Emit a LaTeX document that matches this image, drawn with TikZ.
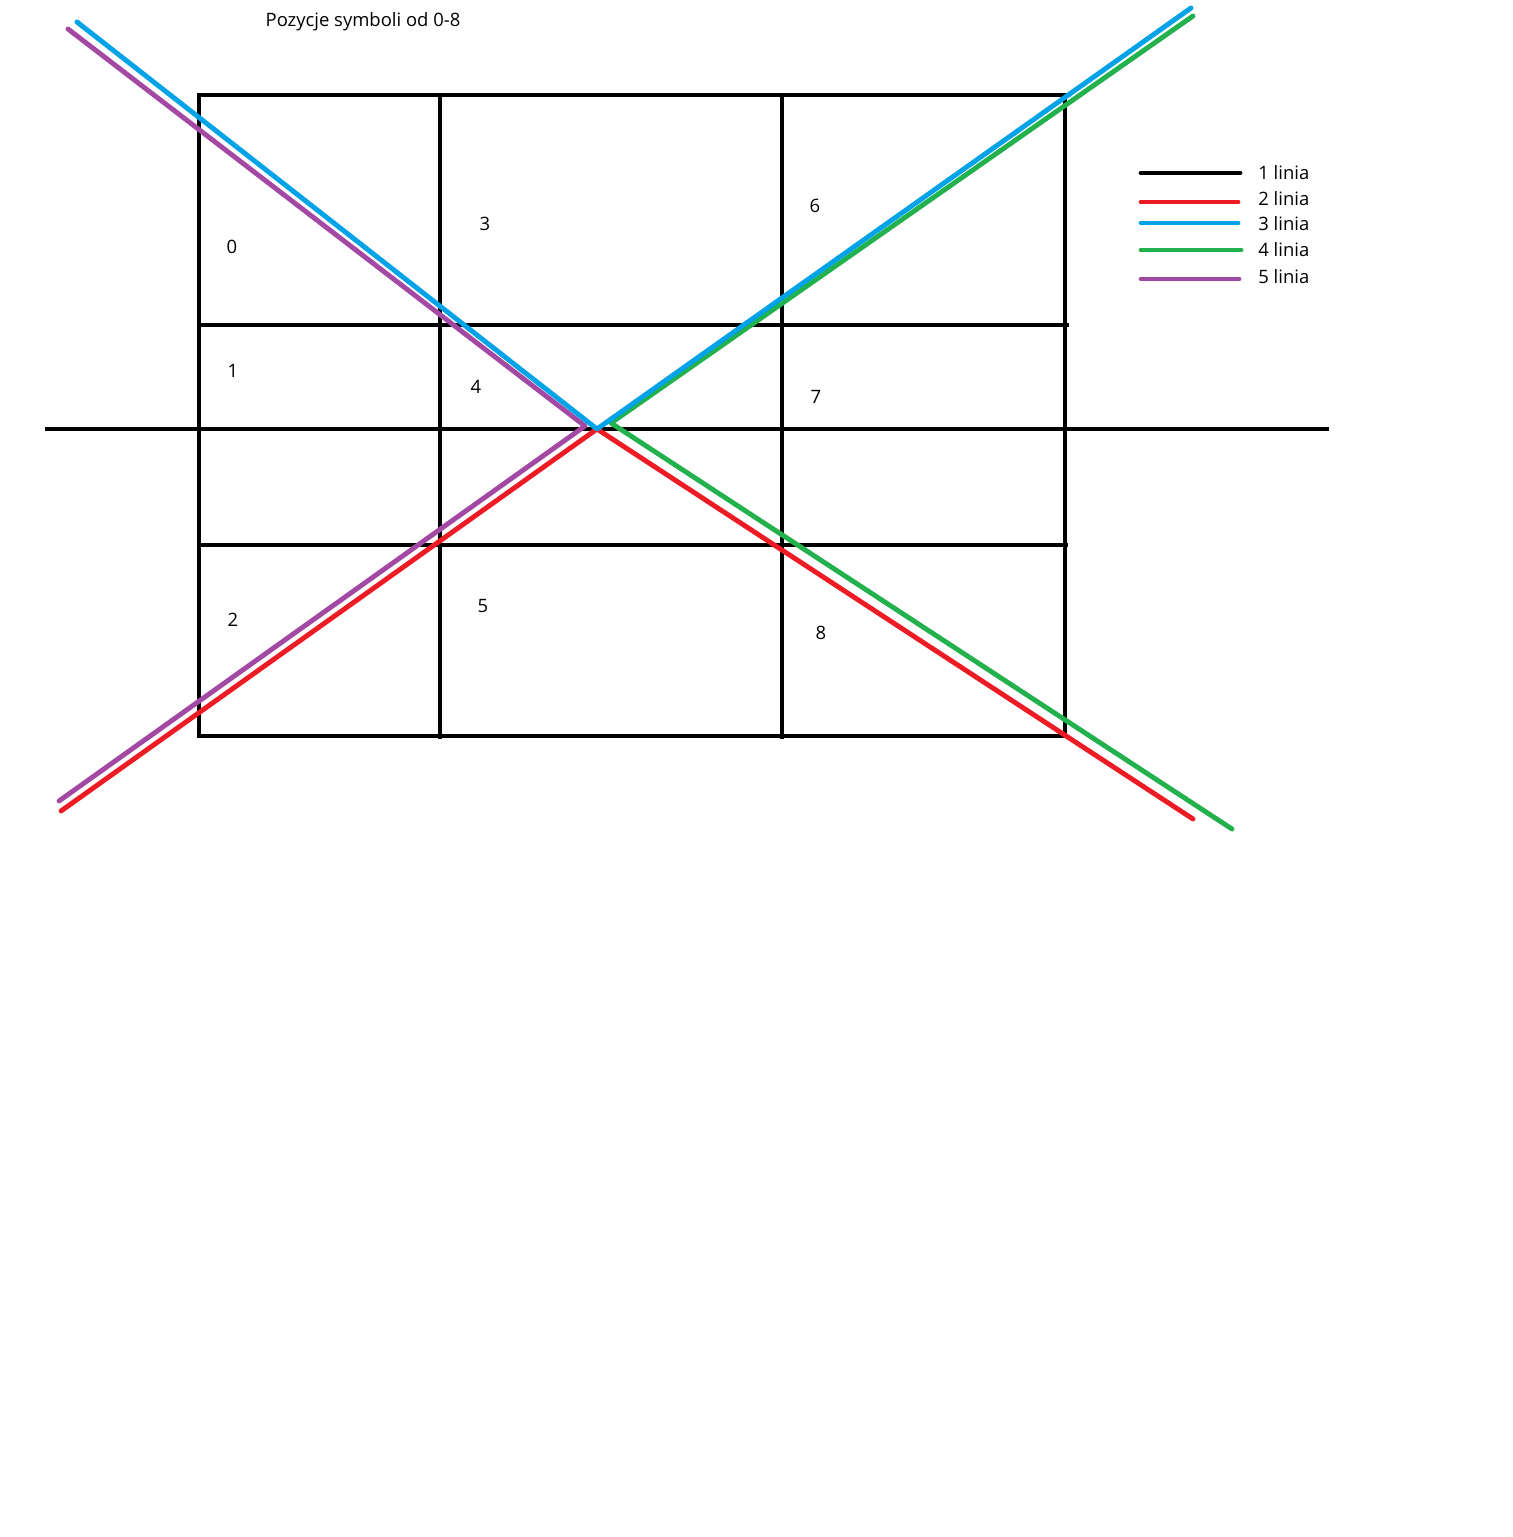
\documentclass[tikz,border=0pt]{standalone}
\usepackage{fontspec}
\setmainfont{Open Sans}
\usetikzlibrary{positioning}
\definecolor{myblue}{RGB}{0,162,232}
\definecolor{myred}{RGB}{237,28,36}
\definecolor{mygreen}{RGB}{34,177,76}
\definecolor{mypurple}{RGB}{163,73,164}
\tikzset{
  gridline/.style={line width=2.6pt, color=black},
  winline/.style={line width=2.8pt, line cap=round, line join=round},
  legline/.style={line width=2.8pt, line cap=round},
  numtext/.style={font=\fontsize{10.5}{12}\selectfont, inner sep=0pt}
}
\begin{document}
\begin{tikzpicture}[x=0.02cm, y=-0.02cm]
  \useasboundingbox (0,0) rectangle (1512,1537);

  % Title
  \node[numtext] (title) at (363,22) {Pozycje symboli od 0-8};

  % Board grid
  \draw[gridline] (199,95) rectangle (1065,736);
  \draw[gridline] (440,93) -- (440,739);
  \draw[gridline] (782,93) -- (782,739);
  \draw[gridline] (199,325) -- (1069,325);
  \draw[gridline] (199,545) -- (1068,545);
  \draw[gridline] (45,429) -- (1329,429);

  % Symbol positions
  \foreach \n/\x/\y in {0/232/247, 1/233/371, 2/233/620, 3/485/224, 4/476/387,
                        5/483/606, 6/815/206, 7/816/397, 8/821/633}
    \node[numtext] (pos\n) at (\x,\y) {\n};

  % Lines
  \coordinate (mid) at (597,429);
  \draw[winline, myred] (61,811) -- (mid) -- (1193,819);
  \draw[winline, mypurple] (68,29) -- (585,426) -- (59,801);
  \draw[winline, mygreen] (1193,16) -- (611,423) -- (1232,829);
  \draw[winline, myblue] (77,22) -- (mid) -- (1191,8);

  % Legend
  \foreach \i/\c/\y/\xe/\ty in {1/black/173/1240/173, 2/myred/202/1238/199,
                                 3/myblue/223/1238/224, 4/mygreen/250/1241/250,
                                 5/mypurple/279/1239/277} {
    \draw[legline, \c] (1141,\y) -- (\xe,\y);
    \node[numtext, anchor=west] (leg\i) at (1258,\ty) {\i{} linia};
  }
\end{tikzpicture}
\end{document}
